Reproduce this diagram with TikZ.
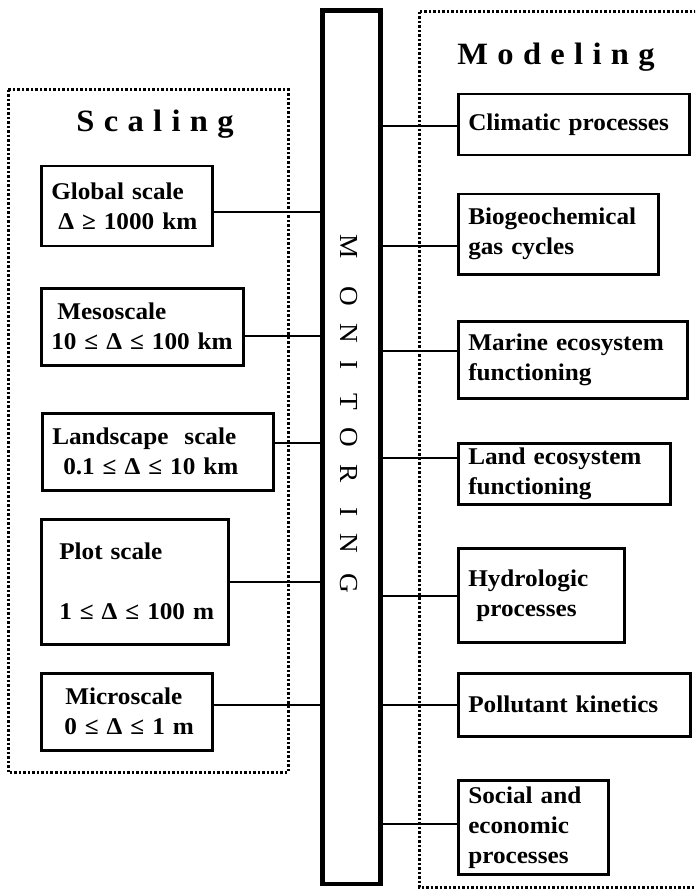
\documentclass[tikz,border=0pt]{standalone}
\usepackage{fontspec}
\setmainfont[FakeStretch=1.05]{Liberation Serif}
\newfontfamily\titlefont[FakeStretch=1.05,LetterSpace=30]{Liberation Serif}
\usetikzlibrary{calc}

\newcommand{\boxfont}{\fontsize{24}{30}\selectfont\bfseries}

\tikzset{
  scalebox/.style={draw, line width=2.5pt, anchor=north west, align=left,
    inner xsep=10pt, inner ysep=4pt, font=\boxfont},
  modelbox/.style={scalebox},
  link/.style={line width=2pt},
  frame/.style={line width=3pt, dash pattern=on 2.5pt off 2pt},
  heading/.style={anchor=base, font=\titlefont\fontsize{31}{34}\selectfont\bfseries},
  letter/.style={rotate=-90, font=\fontsize{26}{26}\selectfont},
}

\begin{document}
\begin{tikzpicture}[x=1pt, y=-1pt]
  \clip (0,0) rectangle (695,890);

  %%% group frames
  \draw[frame] (8,90) rectangle (288,772);
  \draw[frame] (419,12) rectangle (720,887);
  \node[heading] (scaling) at (155,132) {Scaling};
  \node[heading] (modeling) at (556,65) {Modeling};

  %%% central bar
  \node[draw, line width=4.5pt, anchor=north west, minimum width=58pt,
        minimum height=873pt, inner sep=0pt] (bar) at (320,8.5) {};
  \foreach \c/\y [count=\i] in {M/247, O/296, N/333, I/365, T/402,
                                O/437, R/474, I/512, N/543, G/583}
    \node[letter] (mon\i) at (349,\y) {\c};

  %%% scales
  \node[scalebox, text width=151pt, minimum height=80pt] (glob) at (40,165)
    {Global scale\\\hspace*{7pt}Δ~≥~1000~km};
  \node[scalebox, text width=182pt, minimum height=77pt] (meso) at (40,287)
    {\hspace*{6pt}Mesoscale\\10~≤~Δ~≤~100~km};
  \node[scalebox, text width=211pt, minimum height=77pt] (land) at (41,412)
    {Landscape\ \ scale\\\hspace*{11pt}0.1~≤~Δ~≤~10~km};
  \node[scalebox, text width=167pt, minimum height=125pt] (plot) at (40,518)
    {\hspace*{8pt}Plot scale\\[30pt]\hspace*{8pt}1~≤~Δ~≤~100~m};
  \node[scalebox, text width=151pt, minimum height=77pt] (micro) at (40,672)
    {\hspace*{14pt}Microscale\\\hspace*{13pt}0~≤~Δ~≤~1~m};

  %%% models
  \node[modelbox, text width=211pt, minimum height=61pt] (clim) at (457,93)
    {Climatic processes};
  \node[modelbox, text width=180pt, minimum height=80pt] (bgc) at (457,193)
    {Biogeochemical\\gas cycles};
  \node[modelbox, text width=209pt, minimum height=77pt] (marine) at (457,320)
    {Marine ecosystem\\functioning};
  \node[modelbox, text width=192pt, minimum height=61pt] (landeco) at (457,442)
    {Land ecosystem\\functioning};
  \node[modelbox, text width=146pt, minimum height=94pt] (hydro) at (457,547)
    {Hydrologic\\\hspace*{8pt}processes};
  \node[modelbox, text width=212pt, minimum height=63pt] (poll) at (457,672)
    {Pollutant kinetics};
  \node[modelbox, text width=130pt, minimum height=94pt] (social) at (457,779)
    {Social and\\economic\\processes};

  %%% links to the bar
  \foreach \n/\dy in {glob/-6, meso/-9.5, land/8.5, plot/0, micro/6.5}
    \draw[link] ([yshift=\dy pt]\n.east) -- ([yshift=\dy pt]\n.east -| bar.west);
  \foreach \n/\dy in {clim/-1.5, bgc/-12, marine/8.5, landeco/15.5,
                      hydro/-1, poll/0, social/3}
    \draw[link] ([yshift=\dy pt]\n.west) -- ([yshift=\dy pt]\n.west -| bar.east);
\end{tikzpicture}
\end{document}
